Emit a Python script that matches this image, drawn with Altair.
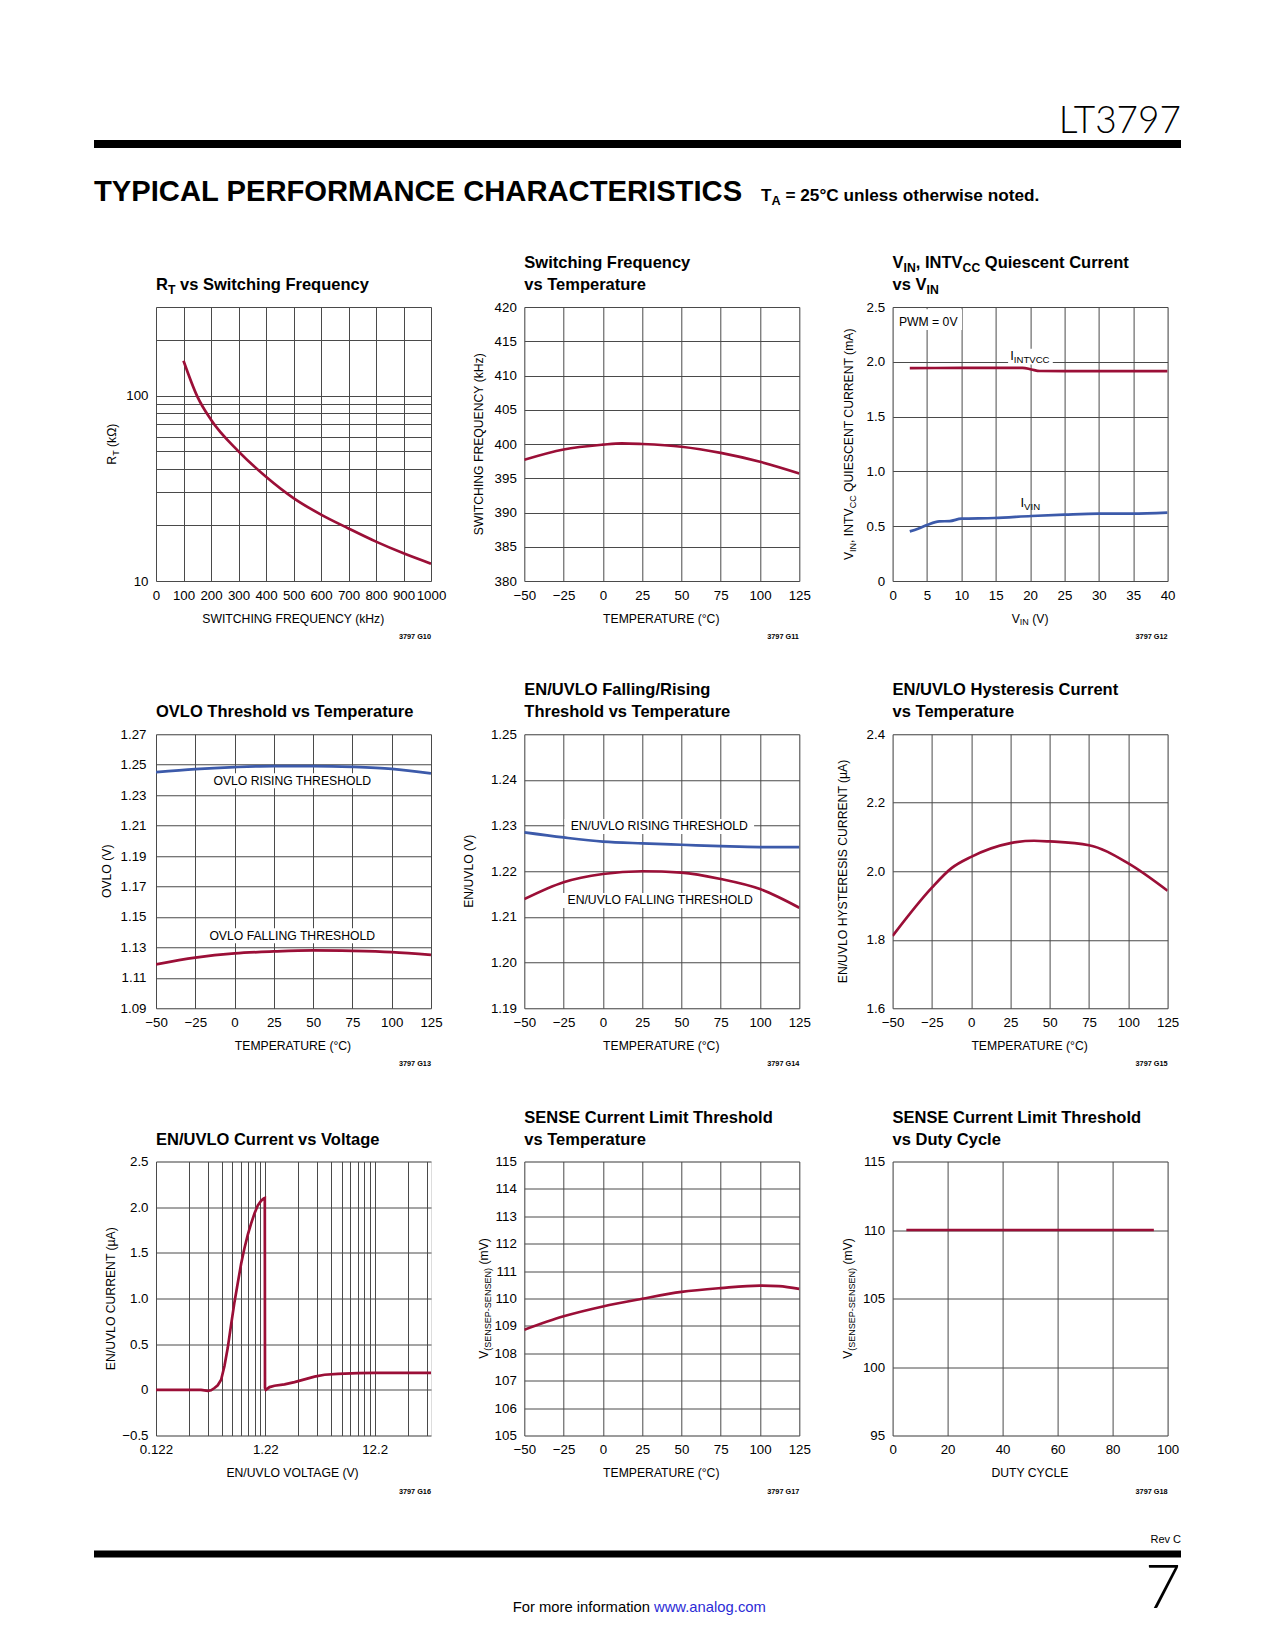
import altair as alt
import pandas as pd

# ---------------- values ----------------
RT_FREQ_KHZ = [100, 150, 200, 300, 400, 500, 600, 700, 800, 900, 1000]
RT_KOHM = [154, 99, 74, 50, 36.5, 28, 22.8, 19.2, 16.3, 14.1, 12.4]

SF_TEMP_C = [-50, -25, 0, 12, 25, 50, 75, 100, 125]
SF_KHZ = [397.7, 399.2, 399.9, 400.1, 400.0, 399.6, 398.7, 397.4, 395.7]

IQ_INT_VIN = [2.5, 10, 18.9, 20.2, 21.4, 25, 30, 40]
IQ_INT_MA = [1.943, 1.944, 1.945, 1.93, 1.916, 1.915, 1.915, 1.915]
IQ_VIN_VIN = [2.5, 3.7, 5.1, 6.8, 8.3, 10, 14.8, 20.2, 25, 30, 34.8, 40]
IQ_VIN_MA = [0.453, 0.477, 0.514, 0.544, 0.546, 0.569, 0.575, 0.593, 0.605, 0.614, 0.614, 0.623]

TEMP_C = [-50, -25, 0, 25, 50, 75, 100, 125]
OVLO_RISE_V = [1.2451, 1.2471, 1.2484, 1.2491, 1.2491, 1.2486, 1.2473, 1.2443]
OVLO_FALL_V = [1.1188, 1.1232, 1.1260, 1.1273, 1.1280, 1.1277, 1.1269, 1.1251]
UVLO_RISE_V = [1.2285, 1.2274, 1.2265, 1.2261, 1.2258, 1.2255, 1.2253, 1.2253]
UVLO_FALL_V = [1.2139, 1.2176, 1.2194, 1.2200, 1.2197, 1.2183, 1.2161, 1.2120]

HYST_TEMP_C = [-50, -25, -12.5, 0, 25, 40, 50, 75, 100, 125]
HYST_UA = [1.811, 1.952, 2.009, 2.042, 2.082, 2.089, 2.087, 2.076, 2.023, 1.943]

ENI_V = [0.122, 0.207, 0.315, 0.363, 0.389, 0.418, 0.448, 0.481, 0.516, 0.553,
         0.593, 0.637, 0.683, 0.733, 0.786, 0.844, 0.904, 0.971, 1.042, 1.118,
         1.182, 1.207, 1.212, 1.233, 1.333, 1.48, 1.828, 2.257, 2.788, 3.44,
         4.25, 5.63, 8.58, 12.2, 40]
ENI_UA = [0.0, 0.0, 0.0, -0.012, -0.005, 0.02, 0.05, 0.11, 0.26, 0.46,
          0.71, 0.96, 1.17, 1.38, 1.55, 1.70, 1.82, 1.93, 2.02, 2.07,
          2.095, 2.10, 0.02, 0.0, 0.03, 0.045, 0.06, 0.085, 0.115, 0.145,
          0.165, 0.175, 0.183, 0.186, 0.186]

SENSE_TEMP_C = [-50, -25, 0, 25, 50, 75, 100, 112, 125]
SENSE_MV = [108.86, 109.35, 109.71, 109.99, 110.24, 110.38, 110.47, 110.45, 110.35]

DUTY_PCT = [5, 95]
DUTY_MV = [110, 110]

# tick / gridline values
FREQ_TICKS = [0, 100, 200, 300, 400, 500, 600, 700, 800, 900, 1000]
RT_GRID = [10, 20, 30, 40, 50, 60, 70, 80, 90, 100, 200, 300]
TEMP_TICKS = [-50, -25, 0, 25, 50, 75, 100, 125]
SF_TICKS = [380, 385, 390, 395, 400, 405, 410, 415, 420]
IQ_X_TICKS = [0, 5, 10, 15, 20, 25, 30, 35, 40]
IQ_Y_TICKS = [0, 0.5, 1.0, 1.5, 2.0, 2.5]
OVLO_TICKS = [1.09, 1.11, 1.13, 1.15, 1.17, 1.19, 1.21, 1.23, 1.25, 1.27]
UVLO_TICKS = [1.19, 1.20, 1.21, 1.22, 1.23, 1.24, 1.25]
HYST_TICKS = [1.6, 1.8, 2.0, 2.2, 2.4]
ENI_X_GRID = [0.122, 0.244, 0.366, 0.488, 0.61, 0.732, 0.854, 0.976, 1.098,
              1.22, 2.44, 3.66, 4.88, 6.1, 7.32, 8.54, 9.76, 10.98,
              12.2, 24.4, 36.6]
ENI_Y_TICKS = [-0.5, 0, 0.5, 1.0, 1.5, 2.0, 2.5]
SENSE_TICKS = [105, 106, 107, 108, 109, 110, 111, 112, 113, 114, 115]
DUTY_X_TICKS = [0, 20, 40, 60, 80, 100]
DUTY_Y_TICKS = [95, 100, 105, 110, 115]

# ---------------- style ----------------
NARROW = "Liberation Sans, Arial, sans-serif"
WIDE = "Liberation Sans, Arial, sans-serif"
LIGHT = "Lato, Liberation Sans, sans-serif"
RED = "#9B0F37"
BLUE = "#3C5AAA"
GRID = "#4a4a4a"
W, H = 275, 274
NF = 1.0
SUBF = 0.74
DROP = 0.24
LBL = 13.3
TTL = 12.2
HEAD = 16.5
INL = 12.2

_U = "ABCDEFGHIJKLMNOPQRSTUVWXYZ"
_L = "abcdefghijklmnopqrstuvwxyz"
AW = dict(zip(_U, [667, 667, 722, 722, 667, 611, 778, 722, 278, 500, 667, 556, 833,
                   722, 778, 667, 778, 722, 667, 611, 722, 667, 944, 667, 667, 611]))
AW.update(zip(_L, [556, 556, 500, 556, 556, 278, 556, 556, 222, 222, 500, 222, 833,
                   556, 556, 556, 556, 333, 500, 278, 556, 500, 722, 500, 500, 500]))
ABW = dict(zip(_U, [722, 722, 722, 722, 667, 611, 778, 722, 278, 556, 722, 611, 833,
                    722, 778, 667, 778, 722, 667, 611, 722, 667, 944, 667, 667, 611]))
ABW.update(zip(_L, [556, 611, 556, 611, 556, 333, 611, 611, 278, 278, 556, 278, 889,
                    611, 611, 611, 611, 389, 556, 333, 611, 556, 778, 556, 556, 500]))
for t in (AW, ABW):
    t.update({" ": 278, "(": 333, ")": 333, ",": 278, "-": 333, ".": 278, "/": 278,
              "=": 584, "°": 400, "Ω": 768, "µ": 576})
    for d in "0123456789":
        t[d] = 556

ONE = pd.DataFrame({"d": [0]})


def tw(s, size, bold=False, nf=NF):
    t = ABW if bold else AW
    return sum(t.get(c, 556) for c in s) / 1000.0 * size * nf


def hpieces(pieces, x0, y0, size, bold=False, color="black", anchor="left", font=NARROW):
    sizes = [size * SUBF if sub else size for _, sub in pieces]
    widths = [tw(t, s, bold) for (t, _), s in zip(pieces, sizes)]
    total = sum(widths)
    x = x0 - (total / 2 if anchor == "center" else (total if anchor == "right" else 0))
    out = []
    for (t, sub), s, w in zip(pieces, sizes, widths):
        lead = len(t) - len(t.lstrip(" "))
        xs = x + tw(" " * lead, s, bold)
        out.append(alt.Chart(ONE).mark_text(
            text=t.strip(" "), align="left", baseline="alphabetic", font=font, fontSize=s,
            fontWeight="bold" if bold else "normal", color=color
        ).encode(x=alt.value(xs), y=alt.value(y0 + (size * DROP if sub else 0))))
        x += w
    return out


def vpieces(pieces, cx, cy, size):
    sizes = [size * SUBF if sub else size for _, sub in pieces]
    widths = [tw(t, s) for (t, _), s in zip(pieces, sizes)]
    y = cy + sum(widths) / 2
    bx = cx + 0.36 * size
    out = []
    for (t, sub), s, w in zip(pieces, sizes, widths):
        lead = len(t) - len(t.lstrip(" "))
        ys = y - tw(" " * lead, s)
        out.append(alt.Chart(ONE).mark_text(
            text=t.strip(" "), angle=270, align="left", baseline="alphabetic",
            font=NARROW, fontSize=s, color="black"
        ).encode(x=alt.value(bx + (size * DROP if sub else 0)), y=alt.value(ys)))
        y -= w
    return out


def axis(values, expr, pad):
    return alt.Axis(values=values, grid=True, gridColor=GRID, gridWidth=1, gridOpacity=1,
                    domain=False, ticks=False, tickSize=0, labelPadding=pad,
                    labelFont=NARROW, labelFontSize=LBL, labelColor="black",
                    labelFlush=False, labelOverlap=False, title=None, labelExpr=expr)


NEG = "replace(format(datum.value, 'd'), '-', '\u2212')"


class Panel:
    def __init__(self, xdom, ydom, xvals, xexpr, yvals, yexpr, xlog=False, ylog=False, ypad=8):
        self.xdom, self.ydom = xdom, ydom
        self.xs = alt.Scale(domain=xdom, nice=False, zero=False, type="log" if xlog else "linear")
        self.ys = alt.Scale(domain=ydom, nice=False, zero=False, type="log" if ylog else "linear")
        self.xa = axis(xvals, xexpr, 7)
        self.ya = axis(yvals, yexpr, ypad)
        self.boxes, self.lines, self.texts = [], [], []

    def X(self, f):
        return alt.X(f + ":Q", scale=self.xs, axis=self.xa)

    def Y(self, f):
        return alt.Y(f + ":Q", scale=self.ys, axis=self.ya)

    def line(self, xs, ys, color, interp="monotone"):
        df = pd.DataFrame({"x": xs, "y": ys})
        self.lines.append(alt.Chart(df).mark_line(
            color=color, strokeWidth=2.7, interpolate=interp, clip=True
        ).encode(x=self.X("x"), y=self.Y("y")))

    def box(self, x1, x2, y1, y2):
        df = pd.DataFrame({"x1": [x1], "x2": [x2], "y1": [y1], "y2": [y2]})
        self.boxes.append(alt.Chart(df).mark_rect(color="white").encode(
            x=self.X("x1"), x2="x2:Q", y=self.Y("y1"), y2="y2:Q"))

    def label(self, text, xv, yv, size=INL, align="center", baseline="middle", dx=0, dy=0):
        df = pd.DataFrame({"x": [xv], "y": [yv]})
        self.texts.append(alt.Chart(df).mark_text(
            text=text, align=align, baseline=baseline, dx=dx, dy=dy,
            font=NARROW, fontSize=size, color="black"
        ).encode(x=self.X("x"), y=self.Y("y")))

    def boxed_label(self, text, xv, yv, size=INL, padx=6, pady=7.5):
        w = tw(text, size)
        ux = (self.xdom[1] - self.xdom[0]) / W
        uy = (self.ydom[1] - self.ydom[0]) / H
        self.box(xv - (w / 2 + padx) * ux, xv + (w / 2 + padx) * ux, yv - pady * uy, yv + pady * uy)
        self.label(text, xv, yv, size)

    def build(self, title_lines, ytitle, ycx, xtitle, gid, extra=()):
        layers = self.boxes + self.lines + self.texts
        n = len(title_lines)
        for i, ln in enumerate(title_lines):
            layers += hpieces(ln, 0, -17 - 22 * (n - 1 - i), HEAD, bold=True)
        layers += vpieces(ytitle, ycx, H / 2, TTL)
        layers += hpieces(xtitle, W / 2, H + 41.5, TTL, anchor="center")
        layers += hpieces([(gid, 0)], W, H + 58, 7.3, bold=True, anchor="right")
        layers += list(extra)
        return alt.layer(*layers).properties(width=W, height=H)


def t(s):
    return [(s, 0)]


TEMP_TITLE = t("TEMPERATURE (°C)")

# ---- 1: RT vs switching frequency ----
p1 = Panel([0, 1000], [10, 300], FREQ_TICKS, "format(datum.value, 'd')", RT_GRID,
           "datum.value == 10 || datum.value == 100 ? format(datum.value, 'd') : ''", ylog=True)
p1.line(RT_FREQ_KHZ, RT_KOHM, RED)
header = []
header.append(alt.Chart(ONE).mark_rule(color="black", strokeWidth=8).encode(
    x=alt.value(-62), x2=alt.value(1025), y=alt.value(-163)))
header.append(alt.Chart(ONE).mark_text(
    text="LT3797", align="right", baseline="alphabetic", font=LIGHT, fontWeight=300,
    fontSize=37, color="black").encode(x=alt.value(1025), y=alt.value(-174)))
header.append(alt.Chart(ONE).mark_text(
    text="TYPICAL PERFORMANCE CHARACTERISTICS", align="left", baseline="alphabetic",
    font=WIDE, fontWeight="bold", fontSize=29.2, color="black").encode(
    x=alt.value(-62), y=alt.value(-106)))
header += hpieces([("T", 0), ("A", 1), (" = 25°C unless otherwise noted.", 0)], 605, -106, 17.2, bold=True)
c1 = p1.build([[("R", 0), ("T", 1), (" vs Switching Frequency", 0)]],
              [("R", 0), ("T", 1), (" (kΩ)", 0)], -44.5,
              t("SWITCHING FREQUENCY (kHz)"), "3797 G10", header)

# ---- 2: switching frequency vs temperature ----
p2 = Panel([-50, 125], [380, 420], TEMP_TICKS, NEG, SF_TICKS, "format(datum.value, 'd')")
p2.line(SF_TEMP_C, SF_KHZ, RED)
c2 = p2.build([t("Switching Frequency"), t("vs Temperature")],
              t("SWITCHING FREQUENCY (kHz)"), -45.3, TEMP_TITLE, "3797 G11")

# ---- 3: quiescent current vs VIN ----
p3 = Panel([0, 40], [0, 2.5], IQ_X_TICKS, "format(datum.value, 'd')", IQ_Y_TICKS,
           "datum.value == 0 ? '0' : format(datum.value, '.1f')")
p3.box(0.3, 10.1, 2.29, 2.48)
p3.box(16.8, 23.3, 1.975, 2.12)
p3.line(IQ_INT_VIN, IQ_INT_MA, RED)
p3.line(IQ_VIN_VIN, IQ_VIN_MA, BLUE)
p3.label("PWM = 0V", 0.92, 2.327, align="left", baseline="alphabetic")
p3.label("I", 17.1, 2.013, size=13, align="left", baseline="alphabetic")
p3.label("INTVCC", 17.1, 2.013, size=13 * SUBF, align="left", baseline="alphabetic",
         dx=tw("I", 13), dy=13 * DROP)
p3.label("I", 18.6, 0.675, size=13, align="left", baseline="alphabetic")
p3.label("VIN", 18.6, 0.675, size=13 * SUBF, align="left", baseline="alphabetic",
         dx=tw("I", 13), dy=13 * DROP)
c3 = p3.build([[("V", 0), ("IN", 1), (", INTV", 0), ("CC", 1), (" Quiescent Current", 0)],
               [("vs V", 0), ("IN", 1)]],
              [("V", 0), ("IN", 1), (", INTV", 0), ("CC", 1), (" QUIESCENT CURRENT (mA)", 0)], -44,
              [("V", 0), ("IN", 1), (" (V)", 0)], "3797 G12")

# ---- 4: OVLO threshold ----
p4 = Panel([-50, 125], [1.09, 1.27], TEMP_TICKS, NEG, OVLO_TICKS, "format(datum.value, '.2f')", ypad=10)
p4.boxed_label("OVLO RISING THRESHOLD", 36.7, 1.2395)
p4.boxed_label("OVLO FALLING THRESHOLD", 36.7, 1.1376)
p4.line(TEMP_C, OVLO_RISE_V, BLUE)
p4.line(TEMP_C, OVLO_FALL_V, RED)
c4 = p4.build([t("OVLO Threshold vs Temperature")], t("OVLO (V)"), -49.3, TEMP_TITLE, "3797 G13")

# ---- 5: EN/UVLO thresholds ----
p5 = Panel([-50, 125], [1.19, 1.25], TEMP_TICKS, NEG, UVLO_TICKS, "format(datum.value, '.2f')")
p5.boxed_label("EN/UVLO RISING THRESHOLD", 35.9, 1.2298)
p5.boxed_label("EN/UVLO FALLING THRESHOLD", 36.5, 1.2136)
p5.line(TEMP_C, UVLO_RISE_V, BLUE)
p5.line(TEMP_C, UVLO_FALL_V, RED)
c5 = p5.build([t("EN/UVLO Falling/Rising"), t("Threshold vs Temperature")],
              t("EN/UVLO (V)"), -55.6, TEMP_TITLE, "3797 G14")

# ---- 6: hysteresis current ----
p6 = Panel([-50, 125], [1.6, 2.4], TEMP_TICKS, NEG, HYST_TICKS, "format(datum.value, '.1f')")
p6.line(HYST_TEMP_C, HYST_UA, RED)
c6 = p6.build([t("EN/UVLO Hysteresis Current"), t("vs Temperature")],
              t("EN/UVLO HYSTERESIS CURRENT (µA)"), -50.3, TEMP_TITLE, "3797 G15")

# ---- 7: EN/UVLO current vs voltage ----
p7 = Panel([0.122, 40], [-0.5, 2.5], ENI_X_GRID,
           "(datum.value == 0.122 || datum.value == 1.22 || datum.value == 12.2) ? '' + datum.value : ''",
           ENI_Y_TICKS,
           "datum.value == 0 ? '0' : replace(format(datum.value, '.1f'), '-', '\u2212')", xlog=True)
p7.line(ENI_V, ENI_UA, RED, interp="linear")
footer = []
footer.append(alt.Chart(ONE).mark_rule(color="black", strokeWidth=7).encode(
    x=alt.value(-62), x2=alt.value(1025), y=alt.value(392.5)))
footer.append(alt.Chart(ONE).mark_text(
    text="Rev C", align="right", baseline="alphabetic", font=NARROW, fontSize=11,
    color="black").encode(x=alt.value(1025), y=alt.value(381)))
footer.append(alt.Chart(ONE).mark_text(
    text="7", align="right", baseline="alphabetic", font=LIGHT, fontWeight=300,
    fontSize=62, color="black").encode(x=alt.value(1025), y=alt.value(446)))
footer.append(alt.Chart(ONE).mark_text(
    text="For more information", align="right", baseline="alphabetic", font=NARROW,
    fontSize=14.8, color="black").encode(x=alt.value(494), y=alt.value(450)))
footer.append(alt.Chart(ONE).mark_text(
    text="www.analog.com", align="left", baseline="alphabetic", font=NARROW,
    fontSize=14.8, color="#2B2BD6").encode(x=alt.value(498), y=alt.value(450)))
c7 = p7.build([t("EN/UVLO Current vs Voltage")], t("EN/UVLO CURRENT (µA)"), -45,
              t("EN/UVLO VOLTAGE (V)"), "3797 G16", footer)

# ---- 8: SENSE threshold vs temperature ----
VSENSE = [("V", 0), ("(SENSEP-SENSEN)", 1), (" (mV)", 0)]
p8 = Panel([-50, 125], [105, 115], TEMP_TICKS, NEG, SENSE_TICKS, "format(datum.value, 'd')")
p8.line(SENSE_TEMP_C, SENSE_MV, RED)
c8 = p8.build([t("SENSE Current Limit Threshold"), t("vs Temperature")],
              VSENSE, -41, TEMP_TITLE, "3797 G17")

# ---- 9: SENSE threshold vs duty cycle ----
p9 = Panel([0, 100], [95, 115], DUTY_X_TICKS, "format(datum.value, 'd')", DUTY_Y_TICKS,
           "format(datum.value, 'd')")
p9.line(DUTY_PCT, DUTY_MV, RED, interp="linear")
c9 = p9.build([t("SENSE Current Limit Threshold"), t("vs Duty Cycle")],
              VSENSE, -45, t("DUTY CYCLE"), "3797 G18")

chart = alt.concat(c1, c2, c3, c4, c5, c6, c7, c8, c9, columns=3,
                   spacing={"row": 153.25, "column": 93.3}, bounds="flush").properties(
    padding={"left": 81, "top": 94, "right": 5, "bottom": 5}
).configure_view(stroke="black", strokeWidth=2.7).configure(background="white")

chart.save("out.html", embed_options={"renderer": "svg", "actions": False})
